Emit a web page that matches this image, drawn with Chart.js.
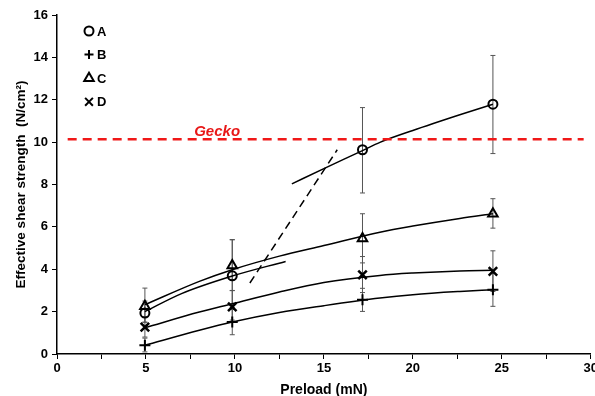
<!DOCTYPE html>
<html>
<head>
<meta charset="utf-8">
<script src="https://cdn.jsdelivr.net/npm/chart.js@4/dist/chart.umd.min.js"></script>
<style>
  html, body { margin: 0; padding: 0; background: #fff; overflow: hidden; }
  #wrap { width: 595px; height: 396px; overflow: hidden; }
</style>
</head>
<body>
<div id="wrap"><canvas id="chart" width="600" height="396"></canvas></div>
<script>
// 測定点 (Preload mN)
const preload = [4.94, 9.85, 17.17, 24.5];

// 各シリーズの値と誤差範囲
const aVal = [1.93, 3.69, 9.64, 11.79];
const aLow = [1.5, 2.2, 7.6, 9.46];
const aHigh = [2.5, 5.4, 11.63, 14.09];

const bVal = [0.41, 1.51, 2.56, 3.03];
const bLow = [0.1, 0.91, 2.01, 2.25];
const bHigh = [0.75, 2.1, 3.1, 3.8];

const cVal = [2.25, 4.18, 5.45, 6.62];
const cLow = [1.5, 3.0, 4.3, 5.94];
const cHigh = [3.11, 5.39, 6.62, 7.33];

const dVal = [1.27, 2.22, 3.74, 3.9];
const dLow = [0.8, 1.6, 2.9, 2.95];
const dHigh = [1.75, 2.99, 4.6, 4.87];

// フィット曲線
const fitALoX = [4.94, 7.0, 9.85, 12.85];
const fitALoY = [2.0, 2.85, 3.68, 4.37];
const fitAHiX = [13.2, 15.0, 17.17, 18.15, 20.0, 22.64, 24.5];
const fitAHiY = [8.03, 8.75, 9.6, 9.99, 10.55, 11.29, 11.79];
const fitBX = [4.94, 8.0, 9.85, 12.5, 15.0, 18.15, 20.0, 22.64, 24.5];
const fitBY = [0.41, 1.12, 1.51, 1.96, 2.28, 2.64, 2.8, 2.95, 3.03];
const fitCX = [4.94, 8.0, 9.85, 12.5, 15.0, 18.15, 20.0, 22.64, 24.5];
const fitCY = [2.33, 3.43, 3.98, 4.62, 5.12, 5.75, 6.04, 6.4, 6.62];
const fitDX = [4.94, 8.0, 9.85, 12.5, 15.0, 18.15, 20.0, 22.64, 24.5];
const fitDY = [1.24, 1.98, 2.37, 2.93, 3.38, 3.71, 3.82, 3.92, 3.95];

// 破線（遷移）と Gecko 基準線
const transX = [10.84, 15.75];
const transY = [3.35, 9.64];
const geckoX = [0.6, 29.6];
const geckoY = [10.14, 10.14];

const legendNames = ["A", "B", "C", "D"];
const legendStyles = ["circle", "cross", "triangle", "crossRot"];

function toXY(xs, ys) {
  return xs.map((x, i) => ({ x: x, y: ys[i] }));
}

const FONT = "'Liberation Sans', Arial, sans-serif";

function pointSet(label, ys, style, radius, bw) {
  return {
    label: label,
    data: toXY(preload, ys),
    showLine: false,
    pointStyle: style,
    pointRadius: radius,
    pointHoverRadius: radius,
    pointBorderWidth: bw || 2,
    pointBorderColor: "#000",
    pointBackgroundColor: "rgba(0,0,0,0)",
    order: 0,
  };
}

function lineSet(xs, ys, opts) {
  return Object.assign({
    data: toXY(xs, ys),
    showLine: true,
    pointRadius: 0,
    borderColor: "#000",
    borderWidth: 1.5,
    cubicInterpolationMode: "monotone",
    order: 1,
  }, opts || {});
}

// 誤差棒
const errBars = [
  [aLow, aHigh],
  [bLow, bHigh],
  [cLow, cHigh],
  [dLow, dHigh],
];

const errorBarPlugin = {
  id: "errorBars",
  beforeDatasetsDraw(chart) {
    const { ctx, scales } = chart;
    ctx.save();
    ctx.strokeStyle = "#555";
    ctx.lineWidth = 1;
    errBars.forEach(([lo, hi]) => {
      preload.forEach((x, i) => {
        const px = scales.x.getPixelForValue(x);
        const y1 = scales.y.getPixelForValue(lo[i]);
        const y2 = scales.y.getPixelForValue(hi[i]);
        ctx.beginPath();
        ctx.moveTo(px, y1);
        ctx.lineTo(px, y2);
        ctx.moveTo(px - 2.5, y1);
        ctx.lineTo(px + 2.5, y1);
        ctx.moveTo(px - 2.5, y2);
        ctx.lineTo(px + 2.5, y2);
        ctx.stroke();
      });
    });
    ctx.restore();
  },
  afterDatasetsDraw(chart) {
    const { ctx, scales, chartArea } = chart;
    ctx.save();
    // Gecko ラベル
    ctx.fillStyle = "#e81818";
    ctx.font = "italic bold 15px " + FONT;
    ctx.textAlign = "center";
    ctx.textBaseline = "middle";
    ctx.fillText("Gecko", scales.x.getPixelForValue(9.0), scales.y.getPixelForValue(10.5));

    // 凡例
    ctx.fillStyle = "#000";
    ctx.strokeStyle = "#000";
    ctx.lineWidth = 2;
    ctx.font = "bold 13px " + FONT;
    ctx.textAlign = "left";
    legendNames.forEach((name, i) => {
      const y = chartArea.top + 16 + i * 23.6;
      const x = chartArea.left + 32;
      ctx.save();
      ctx.fillStyle = "rgba(0,0,0,0)";
      Chart.helpers.drawPoint(ctx, {
        pointStyle: legendStyles[i],
        radius: legendStyles[i] === "triangle" ? 5.5 : (legendStyles[i] === "crossRot" ? 5.5 : 4.5),
        borderWidth: legendStyles[i] === "crossRot" ? 2.5 : 2,
        rotation: 0,
      }, x, y);
      ctx.restore();
      ctx.fillText(name, x + 8, y + 1);
    });
    ctx.restore();
  },
};

new Chart(document.getElementById("chart"), {
  type: "scatter",
  data: {
    datasets: [
      lineSet(geckoX, geckoY, { borderColor: "#f01818", borderWidth: 2.5, borderDash: [9, 6], cubicInterpolationMode: "default" }),
      lineSet(transX, transY, { borderDash: [8, 5], cubicInterpolationMode: "default" }),
      lineSet(fitALoX, fitALoY),
      lineSet(fitAHiX, fitAHiY),
      lineSet(fitBX, fitBY),
      lineSet(fitCX, fitCY),
      lineSet(fitDX, fitDY),
      pointSet("A", aVal, "circle", 4.5),
      pointSet("B", bVal, "cross", 5.5),
      pointSet("C", cVal, "triangle", 5.5),
      pointSet("D", dVal, "crossRot", 6, 2.5),
    ],
  },
  options: {
    responsive: false,
    animation: false,
    layout: { padding: { top: 15, right: 0, left: 0, bottom: 0 } },
    plugins: {
      legend: { display: false },
      tooltip: { enabled: false },
    },
    scales: {
      x: {
        type: "linear",
        min: 0,
        max: 30,
        afterFit(scale) {
          scale.height = 42;
        },
        ticks: {
          stepSize: 2.5,
          autoSkip: false,
          maxRotation: 0,
          padding: 2,
          color: "#000",
          font: { family: FONT, size: 13, weight: "bold" },
          callback: (v) => (v % 5 === 0 ? String(v) : ""),
        },
        grid: { drawOnChartArea: false, drawTicks: true, tickLength: 5, tickColor: "#000", tickWidth: 1 },
        border: { color: "#000", width: 1.5 },
        title: {
          display: true,
          text: "Preload (mN)",
          color: "#000",
          font: { family: FONT, size: 14, weight: "bold" },
          padding: { top: 0, bottom: -3 },
        },
      },
      y: {
        min: 0,
        max: 16,
        afterFit(scale) {
          scale.width = 57;
        },
        ticks: {
          stepSize: 2,
          padding: 4,
          color: "#000",
          font: { family: FONT, size: 13, weight: "bold" },
        },
        grid: { drawOnChartArea: false, drawTicks: true, tickLength: 5, tickColor: "#000", tickWidth: 1 },
        border: { color: "#000", width: 1.5 },
        title: {
          display: true,
          text: "Effective shear strength  (N/cm²)",
          color: "#000",
          font: { family: FONT, size: 13.5, weight: "bold" },
          padding: 13,
        },
      },
    },
  },
  plugins: [errorBarPlugin],
});
</script>
</body>
</html>
